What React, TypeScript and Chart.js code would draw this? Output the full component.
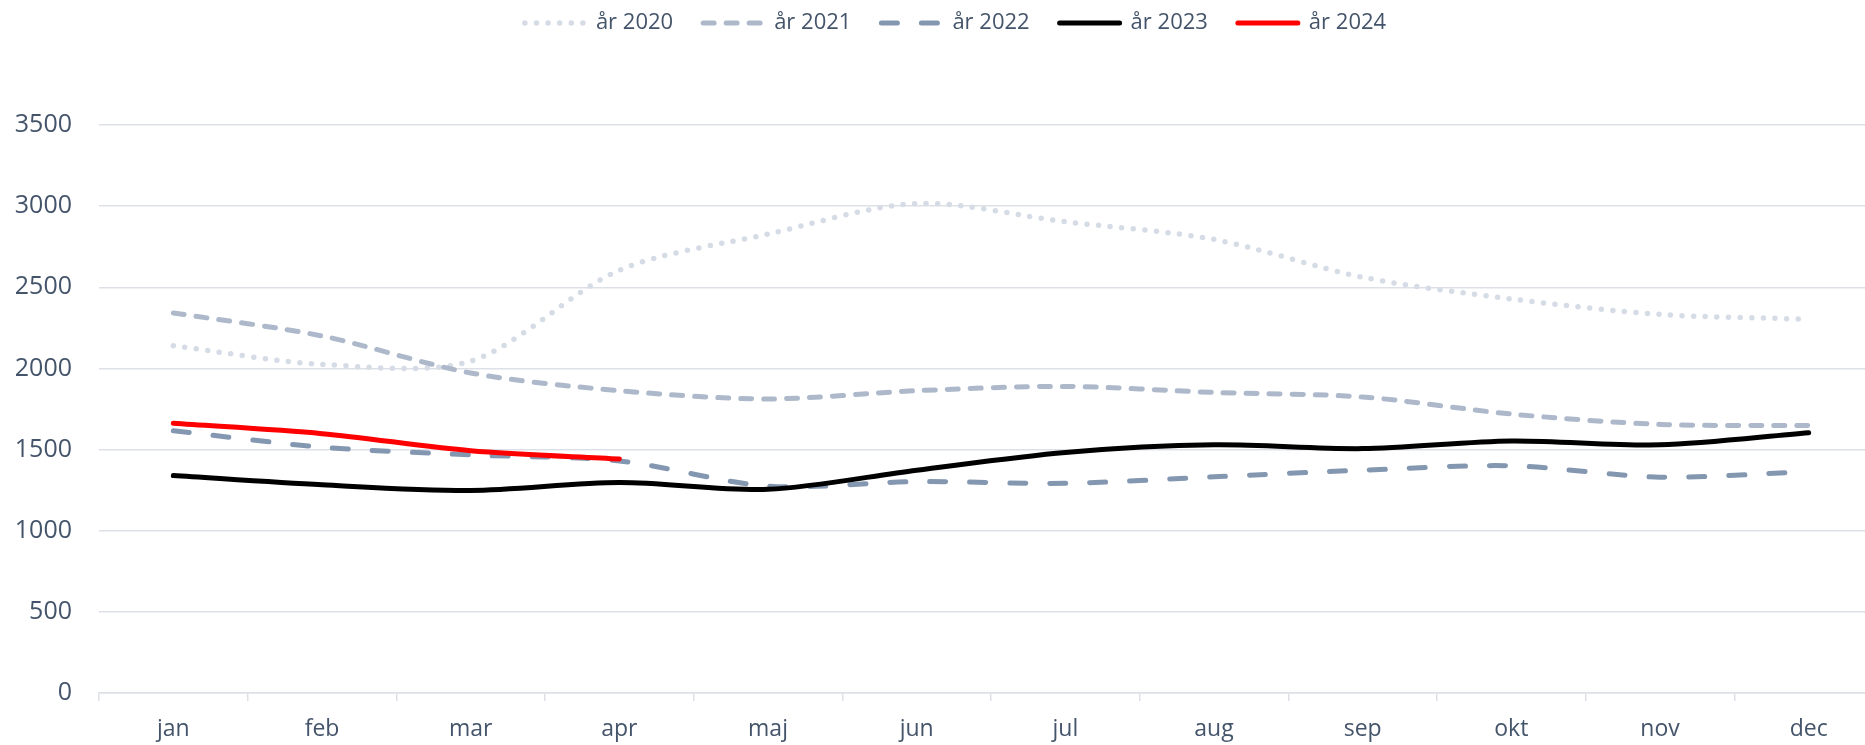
import React, { useEffect, useRef } from 'react';
import { Chart, registerables } from 'chart.js';

Chart.register(...registerables);

const months = ['jan', 'feb', 'mar', 'apr', 'maj', 'jun', 'jul', 'aug', 'sep', 'okt', 'nov', 'dec'];
const seriesNames = ['år 2020', 'år 2021', 'år 2022', 'år 2023', 'år 2024'];
const values2020 = [2140, 2025, 2045, 2605, 2828, 3016, 2904, 2795, 2562, 2428, 2333, 2303];
const values2021 = [2342, 2200, 1972, 1863, 1812, 1863, 1889, 1852, 1824, 1719, 1655, 1648];
const values2022 = [1616, 1515, 1467, 1430, 1275, 1303, 1292, 1332, 1373, 1400, 1330, 1364];
const values2023 = [1340, 1283, 1248, 1297, 1255, 1373, 1482, 1529, 1506, 1553, 1529, 1604];
const values2024 = [1662, 1598, 1493, 1442];
const yMin = 0;
const yMax = 3500;
const yStep = 500;

const TEXT = '#44546A';
const GRID = '#DDE1E7';
const FONT = "'Open Sans', 'Noto Sans', sans-serif";

export default function App() {
  const ref = useRef<HTMLCanvasElement>(null);

  useEffect(() => {
    if (!ref.current) return;
    const legendSpacer = {
      id: 'legendSpacer',
      beforeInit(chart: any) {
        const lg = chart.legend;
        if (!lg || lg.__patched) return;
        const origFit = lg.fit;
        lg.fit = function () {
          origFit.call(this);
          this.height = 143;
        };
        const origDraw = lg.draw;
        lg.draw = function (...args: any[]) {
          const c = this.ctx;
          c.save();
          c.translate(14, 0);
          origDraw.apply(this, args);
          c.restore();
        };
        lg.__patched = true;
      },
    };
    const base = {
      pointRadius: 0,
      pointHoverRadius: 0,
      fill: false,
      tension: 0.3,
      borderCapStyle: 'round' as const,
      borderJoinStyle: 'round' as const,
    };
    const chart = new Chart(ref.current, {
      type: 'line',
      data: {
        labels: months,
        datasets: [
          { ...base, label: seriesNames[0], data: values2020, borderColor: '#D6DCE5', backgroundColor: '#D6DCE5', borderWidth: 5.5, borderDash: [0, 11.6], order: 5 },
          { ...base, label: seriesNames[1], data: values2021, borderColor: '#ADB9CA', backgroundColor: '#ADB9CA', borderWidth: 5, borderDash: [11, 12], order: 4 },
          { ...base, label: seriesNames[2], data: values2022, borderColor: '#8497B0', backgroundColor: '#8497B0', borderWidth: 5, borderDash: [16, 24], order: 3 },
          { ...base, label: seriesNames[3], data: values2023, borderColor: '#000000', backgroundColor: '#000000', borderWidth: 5, order: 2 },
          { ...base, label: seriesNames[4], data: values2024, borderColor: '#FF0000', backgroundColor: '#FF0000', borderWidth: 5, order: 1 },
        ],
      },
      options: {
        responsive: true,
        maintainAspectRatio: false,
        animation: false,
        layout: { padding: { top: -18, right: 31, left: 0, bottom: 0 } },
        plugins: {
          tooltip: { enabled: false },
          legend: {
            position: 'top',
            align: 'center',
            labels: {
              usePointStyle: true,
              pointStyle: 'line',
              pointStyleWidth: 60,
              padding: 30,
              color: TEXT,
              font: { family: FONT, size: 22 },
              sort: (a: any, b: any) => a.datasetIndex - b.datasetIndex,
              generateLabels: (chart: any) => {
                const items = (Chart as any).defaults.plugins.legend.labels.generateLabels(chart);
                return items.map((it: any) => {
                  const ds = chart.data.datasets[it.datasetIndex];
                  return {
                    ...it,
                    lineDash: ds.borderDash || [],
                    lineCap: 'round',
                    lineWidth: ds.borderWidth,
                    strokeStyle: ds.borderColor,
                    fillStyle: ds.borderColor,
                    fontColor: TEXT,
                  };
                });
              },
            },
          },
        },
        scales: {
          x: {
            offset: true,
            grid: {
              display: true,
              drawOnChartArea: false,
              drawTicks: true,
              tickLength: 8,
              offset: true,
              color: GRID,
              lineWidth: 1.5,
            },
            border: { display: true, color: GRID, width: 1.5 },
            ticks: {
              color: TEXT,
              font: { family: FONT, size: 23 },
              padding: 15,
              maxRotation: 0,
              autoSkip: false,
            },
            afterFit: (s: any) => {
              s.height = 52;
            },
          },
          y: {
            min: yMin,
            max: yMax,
            ticks: {
              stepSize: yStep,
              color: TEXT,
              font: { family: FONT, size: 25 },
              padding: 27,
              callback: (v: any) => String(v),
            },
            grid: { color: GRID, drawTicks: false, lineWidth: 1.5 },
            border: { display: false },
            afterFit: (s: any) => {
              s.width = 99;
            },
          },
        },
      },
      plugins: [legendSpacer],
    });
    return () => chart.destroy();
  }, []);

  return (
    <div
      style={{
        position: 'fixed',
        left: 0,
        top: 0,
        width: 1865,
        height: 745,
        overflow: 'hidden',
        background: '#ffffff',
      }}
    >
      <div style={{ position: 'relative', width: 1914, height: 745 }}>
        <canvas ref={ref} />
      </div>
    </div>
  );
}
